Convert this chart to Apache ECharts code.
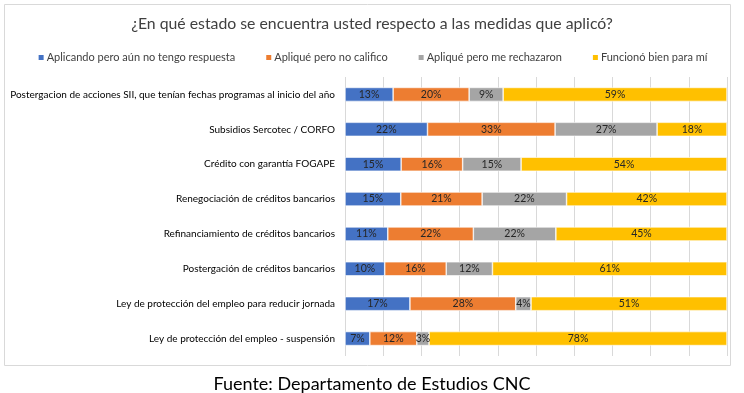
<!DOCTYPE html>
<html><head><meta charset="utf-8">
<script src="https://cdn.jsdelivr.net/npm/echarts@6/dist/echarts.min.js"></script>
<style>html,body{margin:0;padding:0;background:#fff}#c{width:744px;height:393px}</style>
</head><body><div id="c"></div>
<script>
const categories = [
  "Postergacion de acciones SII, que tenían fechas programas al inicio del año",
  "Subsidios Sercotec / CORFO",
  "Crédito con garantía FOGAPE",
  "Renegociación de créditos bancarios",
  "Refinanciamiento de créditos bancarios",
  "Postergación de créditos bancarios",
  "Ley de protección del empleo para reducir jornada",
  "Ley de protección del empleo - suspensión"
];
const seriesNames = ["Aplicando pero aún no tengo respuesta", "Apliqué pero no califico", "Apliqué pero me rechazaron", "Funcionó bien para mí"];
const aplicando = [12.6, 21.6, 14.7, 14.6, 11.2, 10.4, 17.0, 6.5];
const noCalifico = [19.9, 33.4, 16.1, 21.3, 22.4, 16.1, 27.7, 12.3];
const rechazaron = [8.9, 26.7, 15.3, 22.1, 21.6, 12.1, 4.0, 3.2];
const funciono = [58.6, 18.3, 53.9, 42.0, 44.8, 61.4, 51.3, 78.0];
const colors = ["#4472C4", "#ED7D31", "#A5A5A5", "#FFC000"];
const FONT = "Lato";
const chart = echarts.init(document.getElementById('c'));
const data = [aplicando, noCalifico, rechazaron, funciono];
chart.setOption({
  animation: false,
  textStyle: {fontFamily: FONT},
  graphic: [{type: 'rect', shape: {x: 4.5, y: 4.5, width: 726, height: 361}, style: {fill: 'none', stroke: '#d9d9d9', lineWidth: 1}, z: -10}],
  title: [
    {text: "¿En qué estado se encuentra usted respecto a las medidas que aplicó?", left: 'center', top: 11, textStyle: {fontFamily: FONT, fontSize: 15.8, fontWeight: 'normal', color: '#404040'}},
    {text: "Fuente: Departamento de Estudios CNC", left: 'center', top: 370, textStyle: {fontFamily: FONT, fontSize: 18, fontWeight: 'normal', color: '#000'}}
  ],
  legend: {
    top: 47, left: 'center', itemWidth: 7, itemHeight: 7, itemGap: 29, icon: 'rect',
    textStyle: {fontFamily: FONT, fontSize: 11, color: '#404040', padding: [0, 0, 0, -3]},
    data: seriesNames
  },
  grid: {left: 345, right: 17, top: 77, bottom: 37, containLabel: false, outerBoundsMode: 'none'},
  xAxis: {
    type: 'value', min: 0, max: 100, interval: 10,
    axisLabel: {show: false}, axisTick: {show: false}, axisLine: {show: false},
    splitLine: {show: true, lineStyle: {color: '#d9d9d9', width: 1}}
  },
  yAxis: {
    type: 'category', inverse: true, data: categories,
    axisLine: {show: false}, axisTick: {show: false},
    axisLabel: {fontFamily: FONT, fontSize: 10, color: '#000', margin: 10}
  },
  series: data.map((d, i) => ({
    name: seriesNames[i], type: 'bar', stack: 'all', data: d, barWidth: 14,
    itemStyle: {color: colors[i], borderColor: '#fff', borderWidth: 0.6},
    label: {show: true, position: 'inside', fontFamily: FONT, fontSize: 10.5, color: '#262626',
      formatter: p => Math.round(p.value) + '%'}
  }))
});
</script></body></html>
